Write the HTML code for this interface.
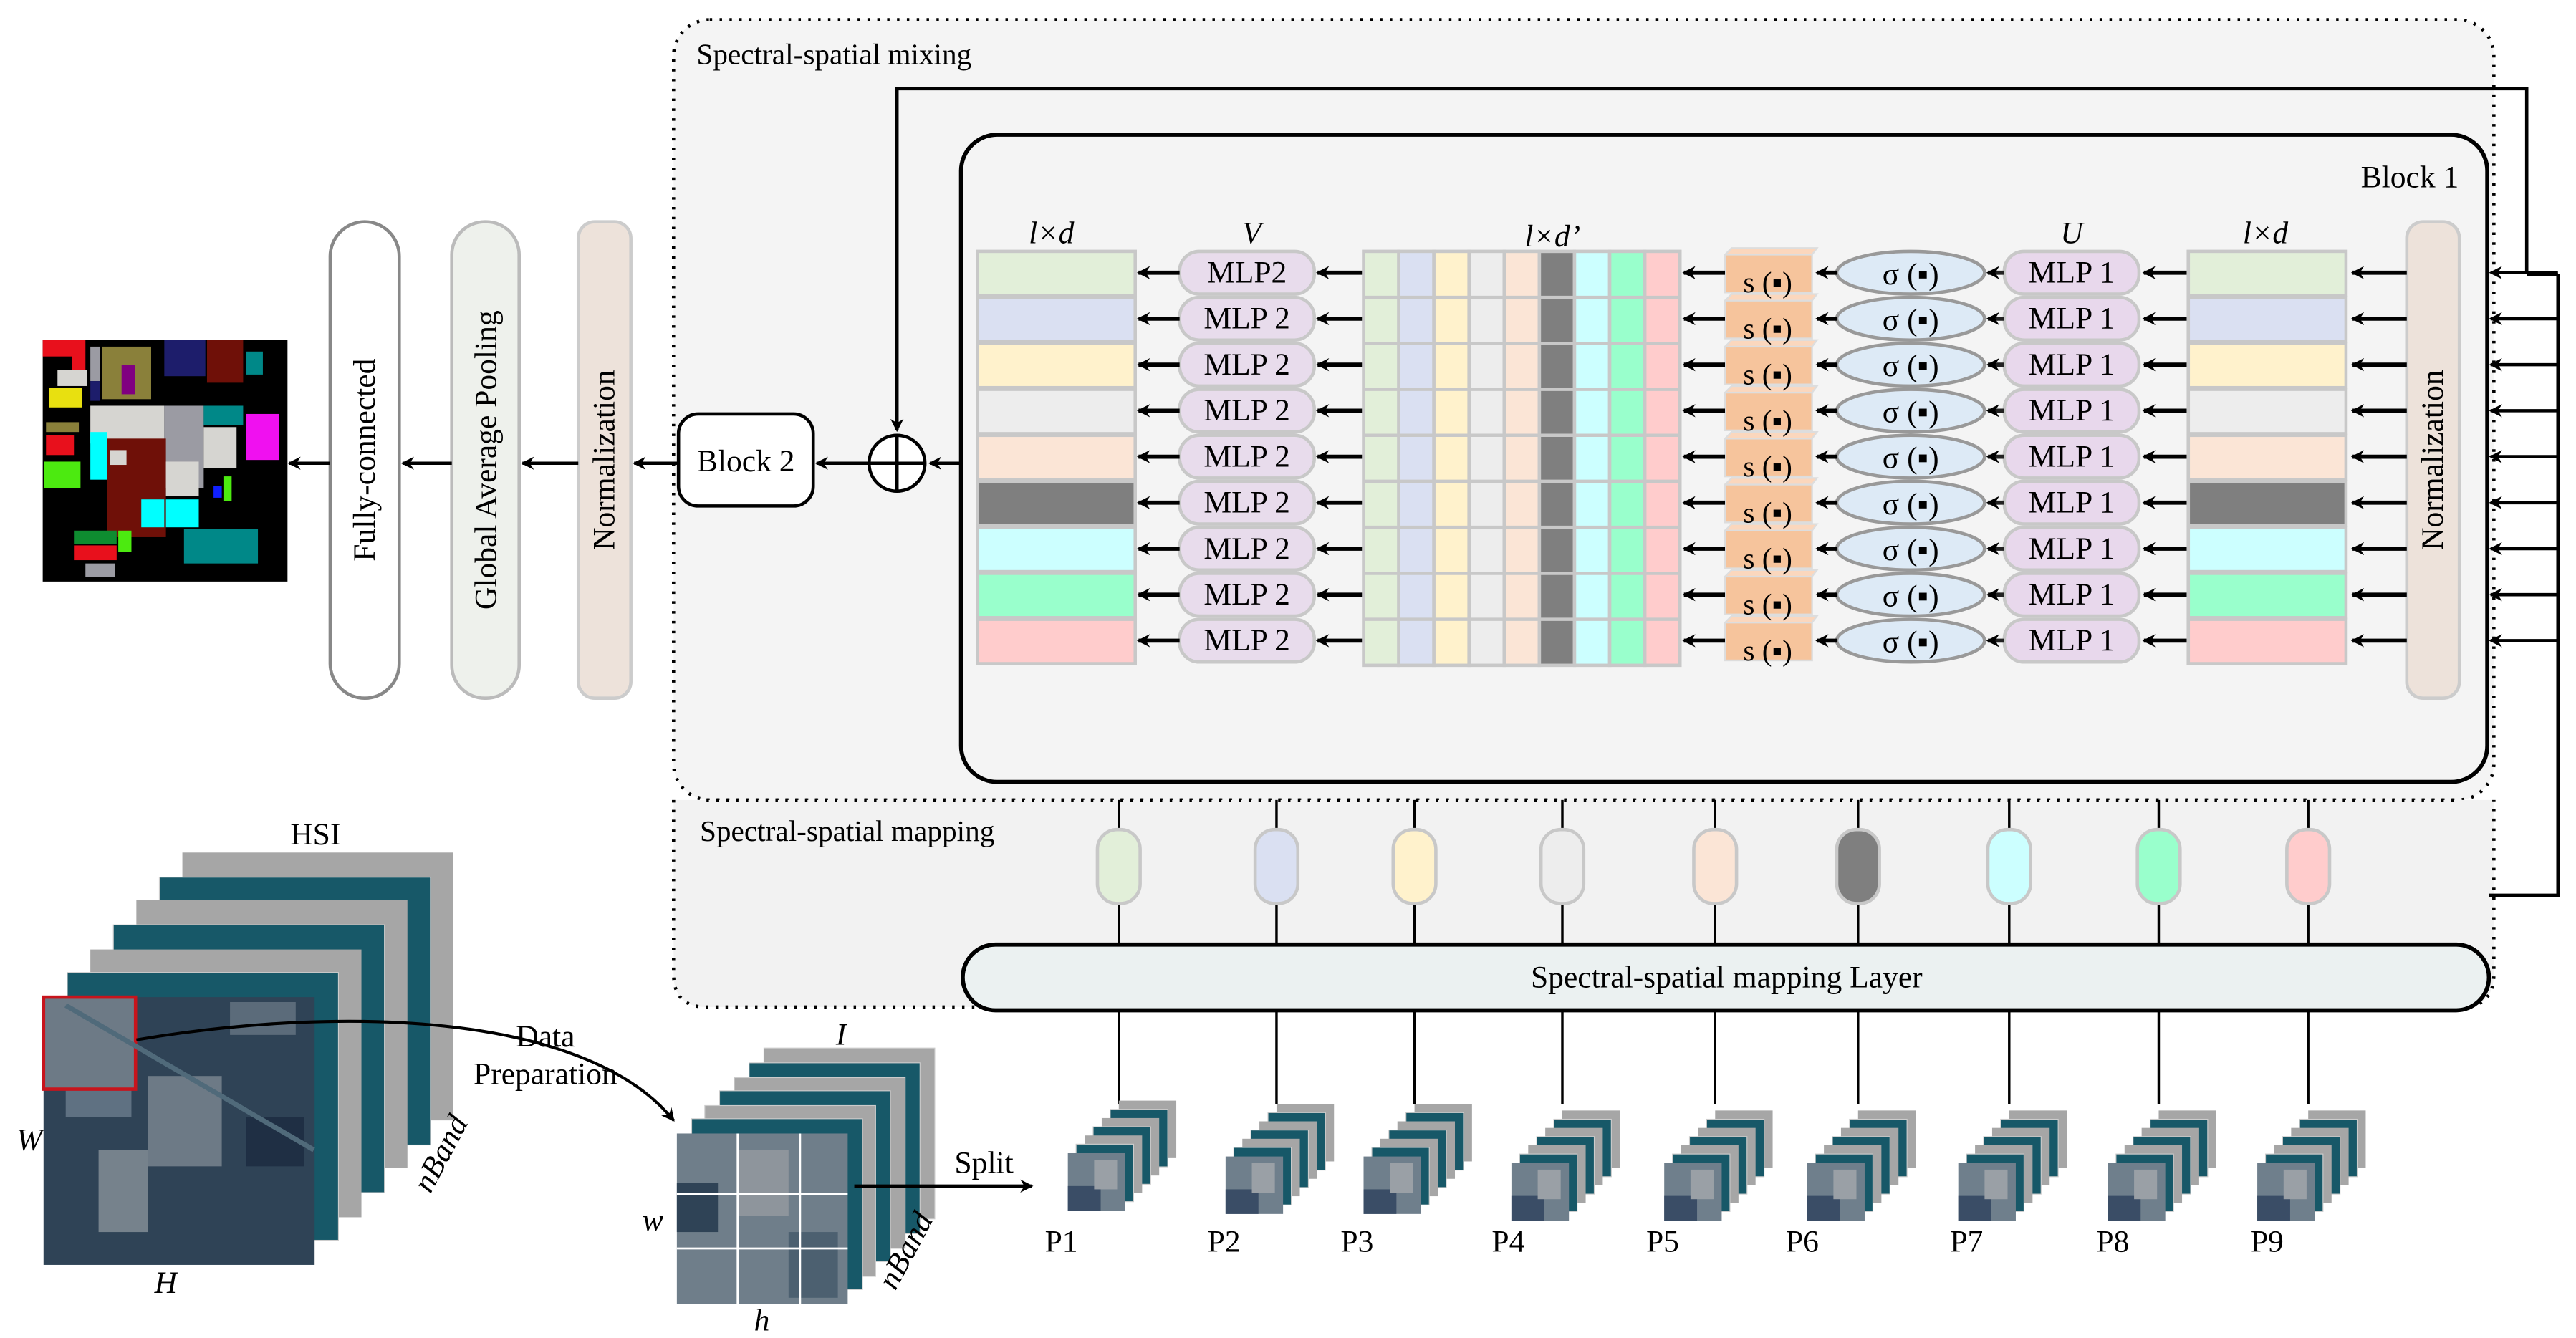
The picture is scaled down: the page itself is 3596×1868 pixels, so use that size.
<!DOCTYPE html>
<html><head><meta charset="utf-8"><style>
html,body{margin:0;padding:0;background:#fff}
svg{display:block}
</style></head><body>
<svg width="3596" height="1868" viewBox="0 0 1568 814.5" preserveAspectRatio="none" xmlns="http://www.w3.org/2000/svg" font-family="'Liberation Serif', serif">
<defs>
<marker id="ah" markerWidth="8" markerHeight="8" refX="7" refY="4" orient="auto" markerUnits="userSpaceOnUse">
<path d="M0,0 L8,4 L0,8 L2.5,4 Z" fill="#000"/></marker>
<g id="row">
<line x1="1465" y1="0" x2="1432" y2="0" stroke="#000" stroke-width="2.5" marker-end="url(#ah)"/>
<line x1="1332" y1="0" x2="1305" y2="0" stroke="#000" stroke-width="2.5" marker-end="url(#ah)"/>
<rect x="1220" y="-13" width="82" height="26" rx="12" fill="#e8d8ec" stroke="#c8c8c8" stroke-width="2"/>
<line x1="1220" y1="0" x2="1210" y2="0" stroke="#222" stroke-width="2.5" marker-end="url(#ah)"/>
<ellipse cx="1163" cy="0" rx="45" ry="13" fill="#ddeaf6" stroke="#999" stroke-width="2"/>
<line x1="1118" y1="0" x2="1106" y2="0" stroke="#000" stroke-width="2.5" marker-end="url(#ah)"/>
<path d="M1054,-15 L1106,-15 L1103,-11 L1103,12 L1050,12 L1050,-11 Z" fill="#fbd7bd" stroke="#ddd"/>
<rect x="1050" y="-11" width="53" height="23" fill="#f6c49c" stroke="#ddd"/>
<line x1="1050" y1="0" x2="1025" y2="0" stroke="#000" stroke-width="2.5" marker-end="url(#ah)"/>
<line x1="830" y1="0" x2="802" y2="0" stroke="#000" stroke-width="2.5" marker-end="url(#ah)"/>
<rect x="718" y="-13" width="82" height="26" rx="12" fill="#e8dcec" stroke="#c8c8c8" stroke-width="2"/>
<line x1="718" y1="0" x2="693" y2="0" stroke="#000" stroke-width="2.5" marker-end="url(#ah)"/>
<line x1="1557" y1="0" x2="1516" y2="0" stroke="#000" stroke-width="2" marker-end="url(#ah)"/>
</g>
<g id="pstk">
<rect x="18" y="0" width="35" height="35" fill="#a6a6a6"/>
<rect x="12.8" y="5.3" width="35" height="35" fill="#175868" stroke="#ccc" stroke-width=".5"/>
<rect x="7.6" y="10.6" width="35" height="35" fill="#a6a6a6"/>
<rect x="2.4" y="15.9" width="35" height="35" fill="#175868" stroke="#ccc" stroke-width=".5"/>
<rect x="-2.8" y="21.2" width="35" height="35" fill="#a6a6a6"/>
<rect x="-8" y="26.5" width="35" height="35" fill="#175868" stroke="#ccc" stroke-width=".5"/>
<rect x="-13" y="32" width="35" height="35" fill="#6f7f8c"/>
<rect x="-13" y="52" width="20" height="15" fill="#3a4d66"/>
<rect x="3" y="36" width="14" height="18" fill="#9aa0a6"/>
</g>
</defs>

<rect x="410" y="12" width="1108" height="475" rx="22" fill="#f4f4f4" stroke="#000" stroke-width="2" stroke-dasharray="1.5 4.5"/>
<path d="M410,487 L410,593 Q410,613 430,613 L1498,613 Q1518,613 1518,593 L1518,487" fill="#f2f2f2" stroke="#000" stroke-width="2" stroke-dasharray="1.5 4.5"/>
<line x1="430" y1="487" x2="1498" y2="487" stroke="#000" stroke-width="2" stroke-dasharray="1.5 4.5"/>
<text x="424" y="39" font-size="18">Spectral-spatial mixing</text>
<text x="426" y="512" font-size="18">Spectral-spatial mapping</text>

<rect x="585" y="82" width="929" height="394" rx="22" fill="#f4f4f4" stroke="#000" stroke-width="2.5"/>
<text x="1437" y="114" font-size="19">Block 1</text>

<path d="M1538,167 L1538,54 L546,54 L546,262" fill="none" stroke="#000" stroke-width="2" marker-end="url(#ah)"/>
<path d="M1557,167 L1557,545 L1515,545" fill="none" stroke="#000" stroke-width="2"/>
<line x1="1538" y1="167" x2="1557" y2="167" stroke="#000" stroke-width="2"/>

<rect x="1465" y="135" width="32" height="290" rx="10" fill="#ede2da" stroke="#ccc" stroke-width="2"/>
<text transform="translate(1487,280) rotate(-90)" font-size="19" text-anchor="middle">Normalization</text>

<use href="#row" y="166"/><use href="#row" y="194"/><use href="#row" y="222"/>
<use href="#row" y="250"/><use href="#row" y="278"/><use href="#row" y="306"/>
<use href="#row" y="334"/><use href="#row" y="362"/><use href="#row" y="390"/>

<g stroke="#c8c8c8" stroke-width="2">
<rect x="1332" y="153" width="96" height="27" fill="#e2efd9"/>
<rect x="1332" y="181" width="96" height="27" fill="#dae0f2"/>
<rect x="1332" y="209" width="96" height="27" fill="#fff2cc"/>
<rect x="1332" y="237" width="96" height="27" fill="#ededed"/>
<rect x="1332" y="265" width="96" height="27" fill="#fbe5d6"/>
<rect x="1332" y="293" width="96" height="27" fill="#7f7f7f"/>
<rect x="1332" y="321" width="96" height="27" fill="#ccffff"/>
<rect x="1332" y="349" width="96" height="27" fill="#99ffcc"/>
<rect x="1332" y="377" width="96" height="27" fill="#ffcccc"/>
<rect x="595" y="153" width="96" height="27" fill="#e2efd9"/>
<rect x="595" y="181" width="96" height="27" fill="#dae0f2"/>
<rect x="595" y="209" width="96" height="27" fill="#fff2cc"/>
<rect x="595" y="237" width="96" height="27" fill="#ededed"/>
<rect x="595" y="265" width="96" height="27" fill="#fbe5d6"/>
<rect x="595" y="293" width="96" height="27" fill="#7f7f7f"/>
<rect x="595" y="321" width="96" height="27" fill="#ccffff"/>
<rect x="595" y="349" width="96" height="27" fill="#99ffcc"/>
<rect x="595" y="377" width="96" height="27" fill="#ffcccc"/>
<rect x="830" y="153" width="21.4" height="252" fill="#e2efd9"/>
<rect x="851.4" y="153" width="21.4" height="252" fill="#dae0f2"/>
<rect x="872.8" y="153" width="21.4" height="252" fill="#fff2cc"/>
<rect x="894.2" y="153" width="21.4" height="252" fill="#ededed"/>
<rect x="915.6" y="153" width="21.4" height="252" fill="#fbe5d6"/>
<rect x="937" y="153" width="21.4" height="252" fill="#7f7f7f"/>
<rect x="958.4" y="153" width="21.4" height="252" fill="#ccffff"/>
<rect x="979.8" y="153" width="21.4" height="252" fill="#99ffcc"/>
<rect x="1001.2" y="153" width="21.4" height="252" fill="#ffcccc"/>
<line x1="830" y1="181" x2="1022.6" y2="181"/><line x1="830" y1="209" x2="1022.6" y2="209"/>
<line x1="830" y1="237" x2="1022.6" y2="237"/><line x1="830" y1="265" x2="1022.6" y2="265"/>
<line x1="830" y1="293" x2="1022.6" y2="293"/><line x1="830" y1="321" x2="1022.6" y2="321"/>
<line x1="830" y1="349" x2="1022.6" y2="349"/><line x1="830" y1="377" x2="1022.6" y2="377"/>
</g>

<g font-size="19" text-anchor="middle">
<text x="1261" y="172">MLP 1</text><text x="1261" y="200">MLP 1</text><text x="1261" y="228">MLP 1</text>
<text x="1261" y="256">MLP 1</text><text x="1261" y="284">MLP 1</text><text x="1261" y="312">MLP 1</text>
<text x="1261" y="340">MLP 1</text><text x="1261" y="368">MLP 1</text><text x="1261" y="396">MLP 1</text>
<text x="759" y="172">MLP2</text><text x="759" y="200">MLP 2</text><text x="759" y="228">MLP 2</text>
<text x="759" y="256">MLP 2</text><text x="759" y="284">MLP 2</text><text x="759" y="312">MLP 2</text>
<text x="759" y="340">MLP 2</text><text x="759" y="368">MLP 2</text><text x="759" y="396">MLP 2</text>
<text x="1163" y="173">σ (▪)</text><text x="1163" y="201">σ (▪)</text><text x="1163" y="229">σ (▪)</text>
<text x="1163" y="257">σ (▪)</text><text x="1163" y="285">σ (▪)</text><text x="1163" y="313">σ (▪)</text>
<text x="1163" y="341">σ (▪)</text><text x="1163" y="369">σ (▪)</text><text x="1163" y="397">σ (▪)</text>
</g>
<g font-size="18" text-anchor="middle">
<text x="1076" y="178">s (▪)</text><text x="1076" y="206">s (▪)</text><text x="1076" y="234">s (▪)</text>
<text x="1076" y="262">s (▪)</text><text x="1076" y="290">s (▪)</text><text x="1076" y="318">s (▪)</text>
<text x="1076" y="346">s (▪)</text><text x="1076" y="374">s (▪)</text><text x="1076" y="402">s (▪)</text>
</g>
<g font-size="19" font-style="italic" text-anchor="middle">
<text x="640" y="148">l×d</text><text x="762" y="148">V</text><text x="945" y="150">l×d’</text>
<text x="1261" y="148">U</text><text x="1379" y="148">l×d</text>
</g>

<line x1="585" y1="282" x2="566" y2="282" stroke="#000" stroke-width="2" marker-end="url(#ah)"/>
<circle cx="546" cy="282" r="17" fill="#fff" stroke="#000" stroke-width="2"/>
<line x1="529" y1="282" x2="563" y2="282" stroke="#000" stroke-width="2"/>
<line x1="546" y1="265" x2="546" y2="299" stroke="#000" stroke-width="2"/>
<line x1="529" y1="282" x2="497" y2="282" stroke="#000" stroke-width="2" marker-end="url(#ah)"/>
<rect x="413" y="252" width="82" height="56" rx="12" fill="#fff" stroke="#000" stroke-width="2"/>
<text x="454" y="287" font-size="19" text-anchor="middle">Block 2</text>
<line x1="413" y1="282" x2="386" y2="282" stroke="#000" stroke-width="2" marker-end="url(#ah)"/>
<rect x="352" y="135" width="32" height="290" rx="10" fill="#ede2da" stroke="#ccc" stroke-width="2"/>
<text transform="translate(374,280) rotate(-90)" font-size="19" text-anchor="middle">Normalization</text>
<line x1="352" y1="282" x2="318" y2="282" stroke="#000" stroke-width="2" marker-end="url(#ah)"/>
<rect x="275" y="135" width="41" height="290" rx="20" fill="#eef1ec" stroke="#bbb" stroke-width="2"/>
<text transform="translate(302,280) rotate(-90)" font-size="19" text-anchor="middle">Global Average Pooling</text>
<line x1="275" y1="282" x2="245" y2="282" stroke="#000" stroke-width="2" marker-end="url(#ah)"/>
<rect x="201" y="135" width="42" height="290" rx="21" fill="#fff" stroke="#888" stroke-width="2"/>
<text transform="translate(228,280) rotate(-90)" font-size="19" text-anchor="middle">Fully-connected</text>
<line x1="201" y1="282" x2="176" y2="282" stroke="#000" stroke-width="2" marker-end="url(#ah)"/>

<rect x="26" y="207" width="149" height="147" fill="#000"/>
<g>
<rect x="26" y="207" width="18" height="10" fill="#e8101c"/>
<rect x="44" y="207" width="8" height="20" fill="#e8101c"/>
<rect x="35" y="225" width="18" height="10" fill="#d6d5d1"/>
<rect x="55" y="211" width="6" height="21" fill="#9b9ba3"/>
<rect x="55" y="232" width="6" height="12" fill="#1d1d6b"/>
<rect x="62" y="211" width="30" height="32" fill="#8a803a"/>
<rect x="74" y="222" width="8" height="18" fill="#800080"/>
<rect x="100" y="207" width="25" height="22" fill="#1d1d6b"/>
<rect x="126" y="207" width="22" height="26" fill="#6f1008"/>
<rect x="150" y="214" width="10" height="14" fill="#008888"/>
<rect x="30" y="236" width="20" height="12" fill="#e8e010"/>
<rect x="55" y="247" width="45" height="23" fill="#d6d5d1"/>
<rect x="100" y="247" width="24" height="50" fill="#9b9ba3"/>
<rect x="124" y="247" width="24" height="12" fill="#008888"/>
<rect x="124" y="260" width="20" height="25" fill="#d6d5d1"/>
<rect x="150" y="252" width="20" height="28" fill="#f010f0"/>
<rect x="28" y="257" width="20" height="6" fill="#8a803a"/>
<rect x="28" y="265" width="17" height="12" fill="#e8101c"/>
<rect x="27" y="281" width="22" height="16" fill="#4cea10"/>
<rect x="55" y="263" width="10" height="29" fill="#00ffff"/>
<rect x="65" y="267" width="36" height="60" fill="#6f1008"/>
<rect x="67" y="274" width="10" height="9" fill="#d6d5d1"/>
<rect x="101" y="281" width="20" height="21" fill="#d6d5d1"/>
<rect x="86" y="304" width="14" height="17" fill="#00ffff"/>
<rect x="101" y="304" width="20" height="17" fill="#00ffff"/>
<rect x="112" y="322" width="45" height="21" fill="#008888"/>
<rect x="45" y="323" width="26" height="8" fill="#0e8c30"/>
<rect x="72" y="323" width="8" height="13" fill="#4cea10"/>
<rect x="45" y="332" width="26" height="9" fill="#e8101c"/>
<rect x="52" y="343" width="18" height="8" fill="#9b9ba3"/>
<rect x="136" y="290" width="5" height="15" fill="#4cea10"/>
<rect x="130" y="296" width="5" height="7" fill="#1020ff"/>
</g>

<g stroke="#000" stroke-width="1.5">
<line x1="681" y1="487" x2="681" y2="575"/><line x1="777" y1="487" x2="777" y2="575"/>
<line x1="861" y1="487" x2="861" y2="575"/><line x1="951" y1="487" x2="951" y2="575"/>
<line x1="1044" y1="487" x2="1044" y2="575"/><line x1="1131" y1="487" x2="1131" y2="575"/>
<line x1="1223" y1="487" x2="1223" y2="575"/><line x1="1314" y1="487" x2="1314" y2="575"/>
<line x1="1405" y1="487" x2="1405" y2="575"/>
<line x1="681" y1="615" x2="681" y2="672"/><line x1="777" y1="615" x2="777" y2="672"/>
<line x1="861" y1="615" x2="861" y2="672"/><line x1="951" y1="615" x2="951" y2="672"/>
<line x1="1044" y1="615" x2="1044" y2="672"/><line x1="1131" y1="615" x2="1131" y2="672"/>
<line x1="1223" y1="615" x2="1223" y2="672"/><line x1="1314" y1="615" x2="1314" y2="672"/>
<line x1="1405" y1="615" x2="1405" y2="672"/>
</g>
<g stroke="#c8c8c8" stroke-width="2">
<rect x="668" y="505" width="26" height="45" rx="12" fill="#e2efd9"/>
<rect x="764" y="505" width="26" height="45" rx="12" fill="#dae0f2"/>
<rect x="848" y="505" width="26" height="45" rx="12" fill="#fff2cc"/>
<rect x="938" y="505" width="26" height="45" rx="12" fill="#ededed"/>
<rect x="1031" y="505" width="26" height="45" rx="12" fill="#fbe5d6"/>
<rect x="1118" y="505" width="26" height="45" rx="12" fill="#7f7f7f"/>
<rect x="1210" y="505" width="26" height="45" rx="12" fill="#ccffff"/>
<rect x="1301" y="505" width="26" height="45" rx="12" fill="#99ffcc"/>
<rect x="1392" y="505" width="26" height="45" rx="12" fill="#ffcccc"/>
</g>
<rect x="586" y="575" width="929" height="40" rx="20" fill="#ebf1f1" stroke="#000" stroke-width="2.5"/>
<text x="1051" y="601" font-size="19" text-anchor="middle">Spectral-spatial mapping Layer</text>

<use href="#pstk" x="663" y="670"/><use href="#pstk" x="759" y="672"/><use href="#pstk" x="843" y="672"/>
<use href="#pstk" x="933" y="676"/><use href="#pstk" x="1026" y="676"/><use href="#pstk" x="1113" y="676"/>
<use href="#pstk" x="1205" y="676"/><use href="#pstk" x="1296" y="676"/><use href="#pstk" x="1387" y="676"/>
<g font-size="19">
<text x="636" y="762">P1</text><text x="735" y="762">P2</text><text x="816" y="762">P3</text>
<text x="908" y="762">P4</text><text x="1002" y="762">P5</text><text x="1087" y="762">P6</text>
<text x="1187" y="762">P7</text><text x="1276" y="762">P8</text><text x="1370" y="762">P9</text>
</g>

<g>
<rect x="111" y="519" width="165" height="163" fill="#a6a6a6"/>
<rect x="97" y="534" width="165" height="163" fill="#175868" stroke="#ccc" stroke-width=".5"/>
<rect x="83" y="548" width="165" height="163" fill="#a6a6a6"/>
<rect x="69" y="563" width="165" height="163" fill="#175868" stroke="#ccc" stroke-width=".5"/>
<rect x="55" y="578" width="165" height="163" fill="#a6a6a6"/>
<rect x="41" y="592" width="165" height="163" fill="#175868" stroke="#ccc" stroke-width=".5"/>
<rect x="26.5" y="607" width="165" height="163" fill="#2f4356"/>
<rect x="40" y="640" width="40" height="40" fill="#5f7182"/>
<rect x="90" y="655" width="45" height="55" fill="#6d7a86"/>
<rect x="60" y="700" width="30" height="50" fill="#76828c"/>
<rect x="140" y="610" width="40" height="20" fill="#5b6b7a"/>
<rect x="150" y="680" width="35" height="30" fill="#1f2f44"/>
<rect x="26.5" y="607" width="56" height="56" fill="#6d7a86" stroke="#c8141c" stroke-width="2"/>
<line x1="40" y1="612" x2="191" y2="700" stroke="#506a7a" stroke-width="3"/>
</g>
<text x="192" y="514" font-size="19" text-anchor="middle">HSI</text>
<text x="10" y="700" font-size="19" font-style="italic">W</text>
<text x="94" y="787" font-size="19" font-style="italic">H</text>
<text transform="translate(262,727) rotate(-62)" font-size="19" font-style="italic">nBand</text>
<path d="M83,633 C220,610 360,620 410,682" fill="none" stroke="#000" stroke-width="1.8" marker-end="url(#ah)"/>
<text x="332" y="637" font-size="19" text-anchor="middle">Data</text>
<text x="332" y="660" font-size="19" text-anchor="middle">Preparation</text>

<g>
<rect x="465" y="638" width="104" height="104" fill="#a6a6a6" stroke="#ccc" stroke-width=".5"/>
<rect x="456" y="647" width="104" height="104" fill="#175868" stroke="#ccc" stroke-width=".5"/>
<rect x="447" y="656" width="104" height="104" fill="#a6a6a6" stroke="#ccc" stroke-width=".5"/>
<rect x="438" y="664" width="104" height="104" fill="#175868" stroke="#ccc" stroke-width=".5"/>
<rect x="429" y="673" width="104" height="104" fill="#a6a6a6" stroke="#ccc" stroke-width=".5"/>
<rect x="421" y="681" width="104" height="104" fill="#175868" stroke="#ccc" stroke-width=".5"/>
<rect x="412" y="690" width="104" height="104" fill="#6f7e8a"/>
<rect x="412" y="720" width="25" height="30" fill="#2f4356"/>
<rect x="450" y="700" width="30" height="40" fill="#8e959c"/>
<rect x="480" y="750" width="30" height="40" fill="#4c6070"/>
<line x1="412" y1="727" x2="516" y2="727" stroke="#fff" stroke-width="1.2"/>
<line x1="412" y1="760" x2="516" y2="760" stroke="#fff" stroke-width="1.2"/>
<line x1="449" y1="690" x2="449" y2="794" stroke="#fff" stroke-width="1.2"/>
<line x1="487" y1="690" x2="487" y2="794" stroke="#fff" stroke-width="1.2"/>
</g>
<text x="512" y="636" font-size="19" font-style="italic" text-anchor="middle">I</text>
<text x="391" y="749" font-size="19" font-style="italic">w</text>
<text x="459" y="810" font-size="19" font-style="italic">h</text>
<text transform="translate(545,786) rotate(-62)" font-size="19" font-style="italic">nBand</text>
<text x="581" y="714" font-size="19">Split</text>
<line x1="520" y1="722" x2="628" y2="722" stroke="#000" stroke-width="2" marker-end="url(#ah)"/>
</svg>
</body></html>
